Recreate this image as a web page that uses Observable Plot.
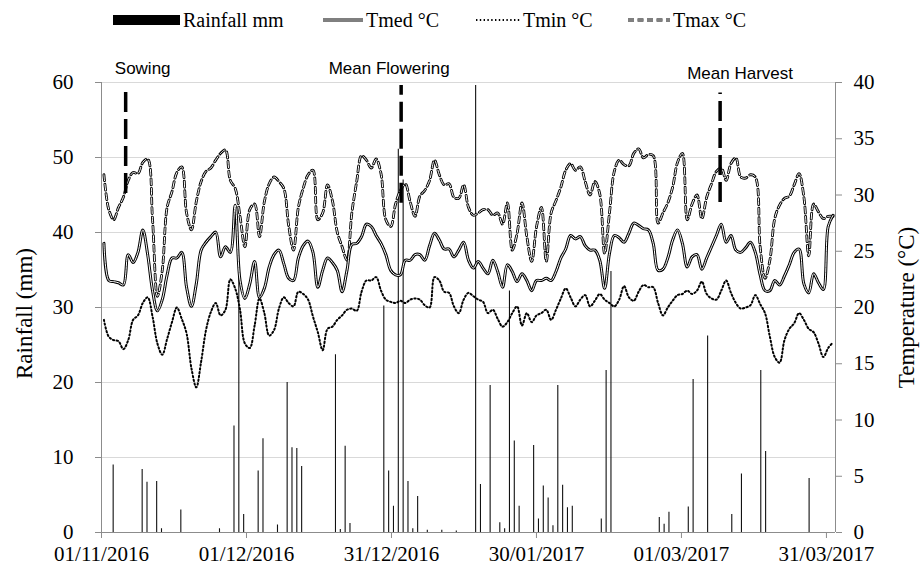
<!DOCTYPE html>
<html><head><meta charset="utf-8">
<script src="https://cdn.jsdelivr.net/npm/d3@7"></script>
<script src="https://cdn.jsdelivr.net/npm/@observablehq/plot@0.6"></script>
<style>
body{margin:0;background:#fff;}
#legend svg{display:block;}
#chart svg{display:block;}
</style></head><body>
<div id="legend"></div>
<div id="chart"></div>
<script>
// ---------- data ----------
const seasonStart = "2016-11-01";
const seasonAxisEnd = "2017-04-01T21:00Z";
const tmax = [31.8,28.7,27.8,28.9,29.8,31.3,32.0,31.9,32.9,33.2,27.8,21.0,23.3,28.9,30.3,32.0,32.5,28.4,26.9,29.4,
31.2,32.1,32.4,33.1,33.7,34.0,31.3,30.6,28.1,25.4,28.7,29.2,26.3,29.4,31.0,31.6,31.2,30.6,27.3,25.1,
28.9,30.6,31.8,32.2,27.8,28.4,30.9,29.5,26.7,25.4,24.2,28.4,31.2,33.5,33.1,32.4,33.2,31.9,27.8,27.2,
29.2,30.4,31.0,29.4,28.1,29.9,30.4,31.3,33.1,31.8,30.9,31.0,29.8,29.7,30.9,28.9,28.2,28.4,28.7,28.7,
28.2,28.4,27.4,29.3,25.1,26.6,29.3,26.3,24.1,27.2,28.9,24.1,28.4,29.5,30.7,32.2,32.8,32.2,32.5,31.2,
30.0,31.2,30.1,24.8,28.4,32.1,33.1,32.7,32.6,33.7,34.1,33.3,33.6,33.5,27.5,28.4,29.3,30.7,32.9,33.7,
27.8,29.2,30.0,27.9,29.8,31.0,32.1,32.4,31.3,32.8,33.3,31.6,31.5,31.8,31.6,25.4,22.6,24.2,27.9,29.1,
29.7,29.9,30.9,31.9,29.8,24.6,29.2,28.5,27.9,28.1,28.1];
const tmed = [25.7,22.4,22.3,22.2,22.0,24.7,24.0,24.9,26.9,24.7,21.5,19.7,20.7,22.9,24.4,24.4,24.9,21.8,20.1,22.1,
25.1,25.8,26.3,26.7,24.5,25.4,24.9,29.1,22.4,20.8,22.1,24.1,20.9,21.7,23.6,24.7,25.1,23.9,22.6,22.4,
24.4,25.5,25.9,24.9,21.8,23.3,24.4,24.0,23.3,21.4,23.3,25.6,25.7,26.3,27.4,27.2,26.4,25.7,24.7,23.3,
22.9,22.9,24.2,24.2,24.7,24.7,24.2,25.5,26.6,26.0,25.2,25.2,24.5,25.1,25.8,24.2,23.5,24.1,23.5,23.0,
24.2,23.2,21.8,23.8,23.2,22.3,23.0,22.4,21.5,22.4,22.4,22.6,22.4,23.2,24.4,25.2,26.4,26.1,26.3,25.5,
25.1,25.1,24.2,21.7,24.8,26.4,26.2,25.8,26.6,27.5,27.3,27.0,26.9,25.7,23.3,23.4,24.4,26.0,26.9,25.7,
23.6,24.5,24.7,23.4,24.4,25.4,26.4,27.4,25.8,26.4,25.1,24.9,25.3,25.8,24.9,22.9,21.5,21.5,22.4,22.0,
22.8,23.8,24.9,25.2,22.1,21.3,23.0,22.2,21.6,27.2,28.2];
const tmin = [18.9,17.4,17.1,17.0,16.3,17.1,18.9,19.3,20.4,20.9,19.2,16.8,15.8,17.2,18.7,20.0,19.0,17.7,14.6,12.9,
15.2,18.0,19.6,20.4,19.3,19.8,22.5,21.7,19.8,16.8,16.4,18.4,20.8,19.5,17.5,18.0,19.9,20.9,20.4,20.1,
21.4,21.2,20.7,19.2,17.8,16.2,18.1,18.3,18.9,19.3,19.8,19.9,19.7,21.4,22.4,22.4,22.7,21.5,20.7,20.5,
20.4,20.6,20.4,20.7,20.8,20.7,20.2,20.0,22.7,22.4,21.4,21.3,20.1,19.5,20.7,21.3,21.0,20.7,20.5,19.5,
19.8,19.0,18.3,18.7,19.5,20.1,18.4,19.5,18.7,19.3,19.5,19.8,18.9,19.8,20.8,21.7,20.9,20.1,20.7,21.1,
20.1,20.6,21.2,20.7,20.4,20.1,20.7,21.9,20.9,20.6,21.4,22.0,21.8,21.8,20.4,19.3,20.0,20.6,21.1,21.2,
21.5,21.2,21.5,22.3,21.2,20.8,20.7,21.5,22.4,21.3,20.4,19.9,20.0,20.2,21.1,20.3,19.5,17.4,15.6,15.1,
17.1,18.1,18.6,19.5,18.9,18.1,17.8,16.8,15.6,16.4,16.9];
const rainDates = ["2016-11-03","2016-11-09","2016-11-10","2016-11-12","2016-11-13","2016-11-17","2016-11-25",
"2016-11-28","2016-11-29","2016-11-30","2016-12-03","2016-12-04","2016-12-07","2016-12-09","2016-12-10",
"2016-12-11","2016-12-12","2016-12-19","2016-12-20","2016-12-21","2016-12-22","2016-12-29","2016-12-30",
"2016-12-31","2017-01-01","2017-01-02","2017-01-03","2017-01-04","2017-01-05","2017-01-07","2017-01-10",
"2017-01-13","2017-01-17","2017-01-18","2017-01-20","2017-01-22","2017-01-23","2017-01-24","2017-01-25",
"2017-01-26","2017-01-29","2017-01-30","2017-01-31","2017-02-01","2017-02-02","2017-02-03","2017-02-04",
"2017-02-05","2017-02-06","2017-02-12","2017-02-13","2017-02-14","2017-02-24","2017-02-25","2017-02-26",
"2017-03-02","2017-03-03","2017-03-06","2017-03-11","2017-03-13","2017-03-17","2017-03-18","2017-03-27"];
const rainMm = [9.0,8.4,6.7,6.8,0.5,3.0,0.5,
14.2,36.0,2.4,8.2,12.5,1.0,20.0,11.3,
11.2,8.8,23.7,0.4,11.5,1.2,30.2,8.2,
3.5,51.1,47.0,6.8,0.5,4.8,0.3,0.3,
0.2,59.6,6.4,19.6,1.3,0.5,32.2,12.2,
3.5,11.6,1.8,6.2,4.6,0.9,19.6,6.3,
3.3,3.5,1.8,21.6,34.8,2.0,1.1,2.7,
3.4,20.4,26.2,2.4,7.8,21.6,10.8,7.2];
const rainTicks = [0,10,20,30,40,50,60];
const tempTicks = [0,5,10,15,20,25,30,35,40];
const dateTicks = ["2016-11-01","2016-12-01","2016-12-31","2017-01-30","2017-03-01","2017-03-31"];
const annLabels = ["Sowing","Mean Flowering","Mean Harvest"];
const annDates = ["2016-11-06","2017-01-02","2017-03-09"];
const annTop = [59.6,59.6,58.6];
const annBottom = [45.2,43.9,44.0];
const seriesNames = ["Rainfall mm","Tmed °C","Tmin °C","Tmax °C"];

// ---------- build ----------
const K = 60 / 40; // mm per °C (shared vertical scale, secondary axis)
const x0 = new Date(seasonStart);
const x1 = new Date(seasonAxisEnd);
const n = tmed.length;
const slot = (x1 - x0) / n; // category slots of the secondary (temperature) axis
const days = d3.range(n).map(i => ({
  t: new Date(+x0 + (i + 0.5) * slot),
  tmax: tmax[i] * K, tmed: tmed[i] * K, tmin: tmin[i] * K
}));
const rain = rainDates.map((d, k) => ({date: new Date(d), mm: rainMm[k]}));
const ann = annLabels.map((l, k) => ({label: l, date: new Date(annDates[k]), top: annTop[k], bottom: annBottom[k]}));

const serif = "'Liberation Serif','Times New Roman',serif";
const sans = "'Liberation Sans',Arial,sans-serif";
const axisGrey = "#8c8c8c";
const curve = "catmull-rom";
const dashMax = "6,3.5";
const dotMin = "1.4,2.4";

const chart = Plot.plot({
  width: 923, height: 530,
  marginTop: 42, marginBottom: 38, marginLeft: 101, marginRight: 88,
  style: {fontFamily: serif, fontSize: "21px", color: "#000", background: "#fff", overflow: "visible"},
  x: {type: "utc", domain: [x0, x1]},
  y: {domain: [0, 60]},
  marks: [
    Plot.gridY(rainTicks.filter(d => d > 0), {stroke: "#d9d9d9", strokeOpacity: 1, strokeWidth: 1}),
    Plot.ruleX(rain, {x: "date", y1: 0, y2: "mm", stroke: "#111", strokeWidth: 1.1, dx: 2}),
    // Tmax: double dashed line
    Plot.line(days, {x: "t", y: "tmax", curve, stroke: "#000", strokeWidth: 2.8, strokeDasharray: dashMax}),
    Plot.line(days, {x: "t", y: "tmax", curve, stroke: "#fff", strokeWidth: 1, strokeDasharray: dashMax}),
    // Tmin: dotted
    Plot.line(days, {x: "t", y: "tmin", curve, stroke: "#000", strokeWidth: 2, strokeDasharray: dotMin}),
    // Tmed: double solid line
    Plot.line(days, {x: "t", y: "tmed", curve, stroke: "#000", strokeWidth: 3}),
    Plot.line(days, {x: "t", y: "tmed", curve, stroke: "#fff", strokeWidth: 1}),
    // phenology annotations
    Plot.ruleX(ann, {x: "date", y1: "bottom", y2: "top", stroke: "#000", strokeWidth: 3.5, strokeDasharray: "20,7"}),
    Plot.text(ann.slice(0, 1), {x: "date", y: 61.8, text: "label", dx: 17, fontFamily: sans, fontSize: 17, fill: "#000"}),
    Plot.text(ann.slice(1, 2), {x: "date", y: 61.8, text: "label", dx: -12, fontFamily: sans, fontSize: 17, fill: "#000"}),
    Plot.text(ann.slice(2, 3), {x: "date", y: 61.2, text: "label", dx: 20, fontFamily: sans, fontSize: 17, fill: "#000"}),
    // axes
    Plot.ruleY([0], {stroke: axisGrey}),
    Plot.ruleX([x0, x1], {stroke: axisGrey}),
    Plot.axisY(rainTicks, {anchor: "left", tickSize: 6, tickPadding: 22, stroke: axisGrey, fill: "#000", label: null, fontSize: 21}),
    Plot.axisY(tempTicks.map(t => t * K), {anchor: "right", tickFormat: d => d / K, tickSize: 6, tickPadding: 12, stroke: axisGrey, fill: "#000", label: null, fontSize: 21}),
    Plot.axisX(dateTicks.map(d => new Date(d)), {anchor: "bottom", tickFormat: d3.utcFormat("%d/%m/%Y"), tickSize: 6, tickPadding: 8, stroke: axisGrey, fill: "#000", label: null, fontSize: 21}),
    Plot.text(["Rainfall (mm)"], {frameAnchor: "left", textAnchor: "middle", dx: -77, dy: 6, rotate: -90, fontSize: 23, fill: "#000"}),
    Plot.text(["Temperature (°C)"], {frameAnchor: "right", textAnchor: "middle", dx: 71, rotate: -90, fontSize: 23, fill: "#000"})
  ]
});
document.getElementById("chart").appendChild(chart);

// ---------- legend (above the chart) ----------
const leg = d3.select("#legend").append("svg").attr("width", 923).attr("height", 40)
  .style("font-family", serif).style("font-size", "20px");
leg.append("rect").attr("x", 113).attr("y", 15).attr("width", 67).attr("height", 10).attr("fill", "#000");
leg.append("text").attr("x", 183).attr("y", 27).text(seriesNames[0]);
// Tmed
leg.append("line").attr("x1", 323).attr("x2", 363).attr("y1", 20).attr("y2", 20).attr("stroke", "#000").attr("stroke-width", 3);
leg.append("line").attr("x1", 323).attr("x2", 363).attr("y1", 20).attr("y2", 20).attr("stroke", "#fff").attr("stroke-width", 1);
leg.append("text").attr("x", 366).attr("y", 27).text(seriesNames[1]);
// Tmin
leg.append("line").attr("x1", 476).attr("x2", 520).attr("y1", 20).attr("y2", 20).attr("stroke", "#000").attr("stroke-width", 2).attr("stroke-dasharray", dotMin);
leg.append("text").attr("x", 523).attr("y", 27).text(seriesNames[2]);
// Tmax
leg.append("line").attr("x1", 628).attr("x2", 670).attr("y1", 20).attr("y2", 20).attr("stroke", "#000").attr("stroke-width", 2.8).attr("stroke-dasharray", dashMax);
leg.append("line").attr("x1", 628).attr("x2", 670).attr("y1", 20).attr("y2", 20).attr("stroke", "#fff").attr("stroke-width", 1).attr("stroke-dasharray", dashMax);
leg.append("text").attr("x", 673).attr("y", 27).text(seriesNames[3]);
</script>
</body></html>
